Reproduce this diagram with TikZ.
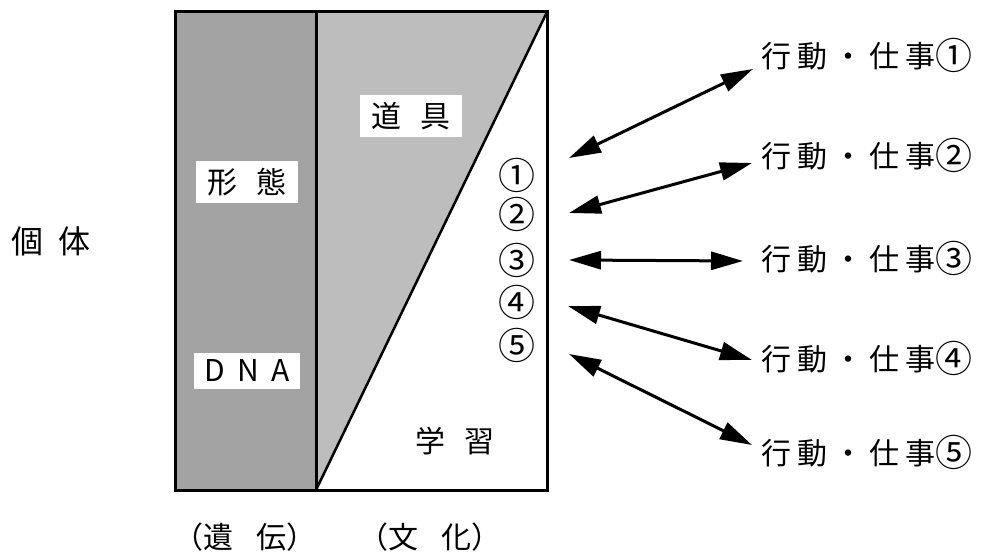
\documentclass[tikz,border=0pt]{standalone}
\usepackage{fontspec}
\setmainfont{Noto Sans CJK JP}
\newfontfamily\jpwide[LetterSpace=20]{Noto Sans CJK JP}
\usetikzlibrary{arrows.meta}
\newcommand\wsp{\hspace{.65em}}
\newcommand\cn[1]{{\fontsize{37}{37}\selectfont\raisebox{-2pt}{#1}}}
\tikzset{
  tag/.style   ={fill=white,inner xsep=11pt,inner ysep=7pt,font=\fontsize{30}{30}\selectfont},
  word/.style  ={inner sep=2pt,font=\fontsize{30}{30}\selectfont},
  num/.style   ={inner sep=1pt,font=\fontsize{37}{37}\selectfont},
  act/.style   ={inner sep=2pt,font=\jpwide\fontsize{30}{30}\selectfont},
  arrow/.style ={{Triangle[length=32pt,width=18pt]}-{Triangle[length=32pt,width=18pt]},line width=3pt}
}
\begin{document}
\begin{tikzpicture}[x=1pt,y=-1pt]
    \useasboundingbox (0,0) rectangle (981,553);
    \coordinate (tl) at (175,12);
    \coordinate (tm) at (316,12);
    \coordinate (tr) at (547,12);
    \coordinate (bl) at (175,490);
    \coordinate (bm) at (316,490);
    \coordinate (br) at (547,490);
    \fill[black!36] (tl) rectangle (bm);
    \fill[black!26] (tm) -- (tr) -- (bm) -- cycle;
    \draw[line width=3pt] (tl) rectangle (br);
    \draw[line width=3pt] (tm) -- (bm);
    \draw[line width=2.5pt] (bm) -- (tr);
    \node[tag]  (keitai)  at (247,182) {形\wsp 態};
    \node[tag,font=\fontsize{30}{30}\selectfont] (dna) at (247,371) {D\hspace{12pt}N\hspace{12pt}A};
    \node[tag]  (dougu)   at (411,116) {道\wsp 具};
    \node[word] (gakushu) at (455,441) {学\wsp 習};
    \node[word,font=\fontsize{32}{32}\selectfont] (kotai) at (51,241) {個\hspace{.45em}体};
    \node[word] (iden)    at (245,537) {（遺\hspace{.75em}伝）};
    \node[word] (bunka)   at (430,537) {（文\hspace{.75em}化）};
    \node[num]  (n1) at (517,175) {①};
    \node[num]  (n2) at (517,214) {②};
    \node[num]  (n3) at (517,260) {③};
    \node[num]  (n4) at (517,302) {④};
    \node[num]  (n5) at (517,345) {⑤};
    \node[act]  (act1) at (867,55)  {行動・仕事\cn{①}};
    \node[act]  (act2) at (867,155) {行動・仕事\cn{②}};
    \node[act]  (act3) at (867,258) {行動・仕事\cn{③}};
    \node[act]  (act4) at (867,358) {行動・仕事\cn{④}};
    \node[act]  (act5) at (867,452) {行動・仕事\cn{⑤}};
    \coordinate (l1) at (569,158);
    \coordinate (l2) at (569,213);
    \coordinate (l3) at (569,260);
    \coordinate (l4) at (568,306);
    \coordinate (l5) at (569,354);
    \coordinate (r1) at (753,69);
    \coordinate (r2) at (752,163);
    \coordinate (r3) at (743,261);
    \coordinate (r4) at (752,360);
    \coordinate (r5) at (752,445);
    \draw[arrow] (l1) -- (r1);
    \draw[arrow] (l2) -- (r2);
    \draw[arrow] (l3) -- (r3);
    \draw[arrow] (l4) -- (r4);
    \draw[arrow] (l5) -- (r5);
\end{tikzpicture}
\end{document}
